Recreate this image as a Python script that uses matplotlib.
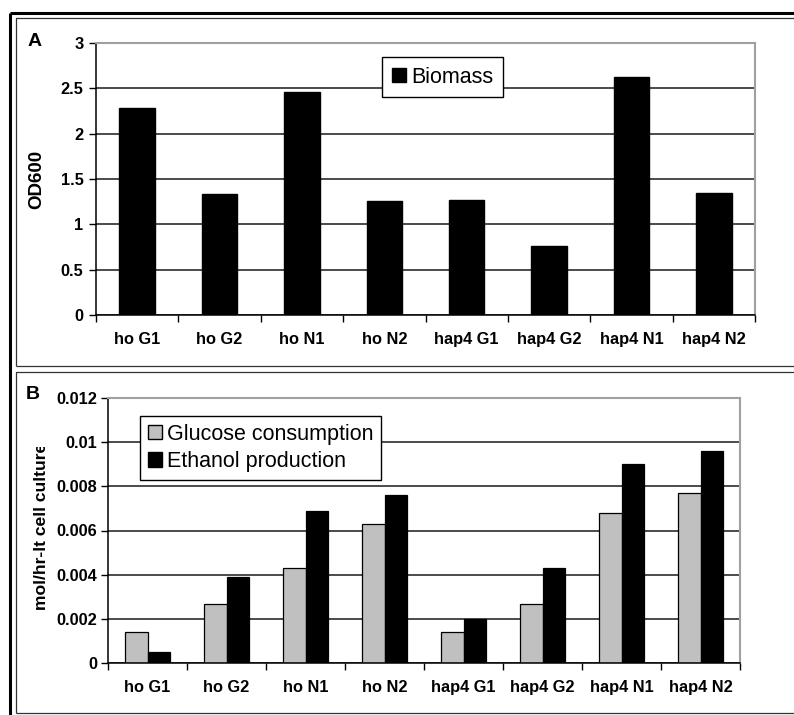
import numpy as np
import matplotlib
matplotlib.use("Agg")
from matplotlib import pyplot as plt
from matplotlib.lines import Line2D
from matplotlib.patches import Patch
from matplotlib.ticker import FuncFormatter, FixedLocator
from matplotlib.transforms import Bbox

plt.rcParams['font.family'] = ['Liberation Sans', 'DejaVu Sans']

# strains / growth conditions
categories = ['ho G1', 'ho G2', 'ho N1', 'ho N2', 'hap4 G1', 'hap4 G2', 'hap4 N1', 'hap4 N2']

# panel A: OD600
biomass = [2.28, 1.34, 2.455, 1.257, 1.27, 0.757, 2.62, 1.35]

# panel B: mol/hr-lt cell culture
glucose = [0.0014, 0.0027, 0.0043, 0.0063, 0.0014, 0.0027, 0.0068, 0.0077]
ethanol = [0.0005, 0.0039, 0.0069, 0.0076, 0.0020, 0.0043, 0.0090, 0.0096]

W, H = 794, 715
fig = plt.figure(figsize=(W / 100, H / 100), dpi=100)
fig.patch.set_facecolor('white')


def px(x, y):
    """pixel position (from top-left) -> figure fraction"""
    return x / W, 1 - y / H


def frame_line(xs, ys, lw, color='black'):
    fx = [x / W for x in xs]
    fy = [1 - y / H for y in ys]
    fig.add_artist(Line2D(fx, fy, lw=lw, color=color, transform=fig.transFigure,
                          solid_capstyle='butt'))


def style_axes(ax, ymax, ystep, ypad):
    n = len(categories)
    x = np.arange(n)
    ax.set_xlim(-0.5, n - 0.5)
    ax.set_ylim(0, ymax)
    ax.yaxis.set_major_locator(FixedLocator(np.arange(0, ymax + ystep / 2, ystep)))
    ax.yaxis.set_major_formatter(FuncFormatter(lambda v, p: f'{round(v, 6):g}'))
    ax.set_xticks(x)
    ax.set_xticklabels(categories, fontweight='bold', fontsize=11.8)
    ax.set_xticks(np.arange(-0.5, n), minor=True)
    ax.tick_params(axis='x', which='major', length=0, pad=12)
    ax.tick_params(axis='x', which='minor', length=5, width=1, direction='out', color='black')
    ax.tick_params(axis='y', length=5, width=1, direction='out', pad=ypad, labelsize=11.8)
    for lab in ax.get_yticklabels():
        lab.set_fontweight('bold')
    ax.yaxis.grid(True, color='#1a1a1a', lw=1.1)
    ax.set_axisbelow(True)
    for s in ('top', 'right'):
        ax.spines[s].set_color('#a0a0a0')
        ax.spines[s].set_linewidth(1.5)
    for s in ('left', 'bottom'):
        ax.spines[s].set_color('black')
        ax.spines[s].set_linewidth(1.1)
    return x


# outer double border
frame_line([10, 10], [13, 715], 2.2)
frame_line([10, 794], [13, 13], 2.2)
# panel boxes
frame_line([16, 16, 800], [366, 18, 18], 0.9, '#333333')
frame_line([16, 800], [366, 366], 0.9, '#333333')
frame_line([16, 16, 800], [713, 372, 372], 0.9, '#333333')
frame_line([16, 800], [713, 713], 0.9, '#333333')

# ---- panel A ----
l, t = px(96, 43)
r, b = px(755, 315)
axA = fig.add_axes([l, b, r - l, t - b])
x = style_axes(axA, 3, 0.5, 4)
axA.bar(x, biomass, width=0.43, color='black', edgecolor='black', label='Biomass')
axA.legend(handles=[Patch(facecolor='black', edgecolor='black', label='Biomass')],
           loc='upper left', bbox_to_anchor=px(382, 57), bbox_transform=fig.transFigure,
           borderaxespad=0, fancybox=False, edgecolor='black', framealpha=1,
           fontsize=15.5, handlelength=0.65, handleheight=0.65, handletextpad=0.25,
           borderpad=0.45).get_frame().set_linewidth(1.0)
fig.text(*px(37, 179), 'OD600', rotation=90, ha='center', va='center',
         fontsize=13.5, fontweight='bold')
fig.text(*px(28, 42), 'A', ha='left', va='center', fontsize=14, fontweight='bold')

# ---- panel B ----
l, t = px(108, 397.7)
r, b = px(740, 663.3)
axB = fig.add_axes([l, b, r - l, t - b])
x = style_axes(axB, 0.012, 0.002, 2.5)
w = 0.285
axB.bar(x - w / 2, glucose, width=w, color='#c0c0c0', edgecolor='black', lw=0.9,
        label='Glucose consumption')
axB.bar(x + w / 2, ethanol, width=w, color='black', edgecolor='black', lw=0.9,
        label='Ethanol production')
legB = axB.legend(handles=[Patch(facecolor='#c0c0c0', edgecolor='black', label='Glucose consumption'),
                           Patch(facecolor='black', edgecolor='black', label='Ethanol production')],
                  loc='upper left', bbox_to_anchor=px(140, 416), bbox_transform=fig.transFigure,
                  borderaxespad=0, fancybox=False, edgecolor='black', framealpha=1,
                  fontsize=15.5, handlelength=0.65, handleheight=0.65, handletextpad=0.25,
                  borderpad=0.35, labelspacing=0.3)
legB.get_frame().set_linewidth(1.0)
ylab = fig.text(*px(42, 526), 'mol/hr-lt cell culture', rotation=90, ha='center', va='center',
                fontsize=12.6, fontweight='bold')
ylab.set_clip_box(Bbox.from_extents(0, 0, 100, H - 447))
ylab.set_clip_on(True)
fig.text(*px(26, 395), 'B', ha='left', va='center', fontsize=14, fontweight='bold')

fig.savefig('out.png', dpi=100)
